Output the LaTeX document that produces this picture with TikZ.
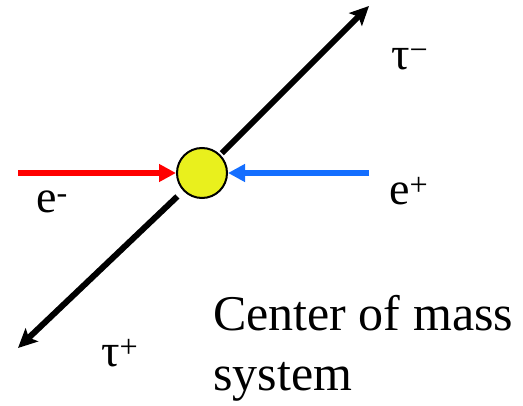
\documentclass[tikz,border=0pt]{standalone}
\usepackage{fontspec}
\setmainfont{Liberation Serif}
\usetikzlibrary{arrows.meta}
\definecolor{vertexFill}{HTML}{E9F01D}
\definecolor{electronStroke}{HTML}{FF0000}
\definecolor{positronStroke}{HTML}{146EFF}

\begin{document}
\begin{tikzpicture}[
  x=1pt,y=1pt,
  vertex/.style={circle,draw=black,line width=2pt,fill=vertexFill,minimum size=50pt,inner sep=0pt},
  beam/.style={-{Triangle[length=17pt,width=17pt]},line width=5.5pt},
  track/.style={-{Stealth[length=19pt,width=18pt,inset=4pt]},line width=6pt,draw=black},
  particle/.style={font=\fontsize{46}{52}\selectfont,inner sep=0pt,anchor=base west},
  caption/.style={font=\fontsize{50}{60}\selectfont,inner sep=0pt,anchor=north west,align=left}
]
\useasboundingbox (0,0) rectangle (523,405);
% Beams meet head-on at the vertex; the tau pair leaves back to back.
\node[vertex] (ip) at (202,232) {};
\coordinate (eminus) at (18,232);
\coordinate (eplus) at (369,232);
\coordinate (tauminus) at (369,399);
\coordinate (tauplus) at (18,57);

\draw[beam,color=electronStroke] (eminus) -- (ip);
\draw[beam,color=positronStroke] (eplus) -- (ip);
\draw[track,shorten <=2pt] (ip) -- (tauminus);
\draw[track,shorten <=8pt] (ip) -- (tauplus);

\node[particle] (lem) at (36,192) {e\textsuperscript{-}};
\node[particle] (lep) at (389,200) {e\textsuperscript{+}};
\node[particle] (ltm) at (391,335) {τ\textsuperscript{−}};
\node[particle] (ltp) at (101,38) {τ\textsuperscript{+}};
\node[caption] (cms) at (213,110) {Center of mass\\system};
\end{tikzpicture}
\end{document}
